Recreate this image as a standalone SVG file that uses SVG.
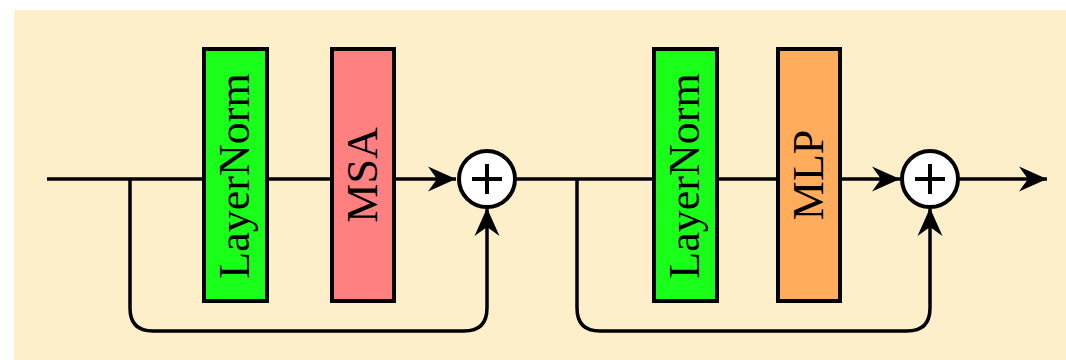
<svg xmlns="http://www.w3.org/2000/svg" width="1066" height="360" viewBox="0 0 1066 360">
<style>
.box{stroke:#000;stroke-width:4}
.lbl{font-family:"Liberation Serif","Times New Roman",serif;font-size:44px;fill:#000;text-anchor:middle}
.ln{fill:none;stroke:#000;stroke-width:3.5}
.sum{fill:#fff;stroke:#000;stroke-width:4}
.plus{stroke:#000;stroke-width:4}
</style>
<defs>
<marker id="arr" markerUnits="userSpaceOnUse" viewBox="-28 -13 29 26" refX="0" refY="0" markerWidth="29" markerHeight="26" orient="auto">
<path d="M0,0 L-28,-12.5 L-19,0 L-28,12.5 Z" fill="#000"/>
</marker>
</defs>
<rect x="0" y="0" width="1066" height="360" fill="#fff"/>
<rect x="14" y="10" width="1052" height="350" fill="#fdefc9"/>
<g id="connectors">
<path class="ln" d="M47,179 H456" marker-end="url(#arr)"/>
<path class="ln" d="M130,179 V308 Q130,331 153,331 H464 Q487,331 487,308 V208" marker-end="url(#arr)"/>
<path class="ln" d="M515,179 H900" marker-end="url(#arr)"/>
<path class="ln" d="M577,179 V308 Q577,331 600,331 H907 Q930,331 930,308 V208" marker-end="url(#arr)"/>
<path class="ln" d="M958,179 H1047" marker-end="url(#arr)"/>
</g>
<g id="layernorm1">
<rect class="box" x="204" y="49" width="63" height="252" fill="#1aff1a"/>
<text class="lbl" transform="translate(249,176) rotate(-90)">LayerNorm</text>
</g>
<g id="msa">
<rect class="box" x="332" y="49" width="62" height="252" fill="#ff8080"/>
<text class="lbl" transform="translate(377,175) rotate(-90)">MSA</text>
</g>
<g id="sum1">
<circle class="sum" cx="487" cy="179" r="28"/>
<path class="plus" d="M472,179 H502 M487,164 V194"/>
</g>
<g id="layernorm2">
<rect class="box" x="654" y="49" width="63" height="252" fill="#1aff1a"/>
<text class="lbl" transform="translate(699,176) rotate(-90)">LayerNorm</text>
</g>
<g id="mlp">
<rect class="box" x="778" y="49" width="62" height="252" fill="#ffad5c"/>
<text class="lbl" transform="translate(823,175) rotate(-90)">MLP</text>
</g>
<g id="sum2">
<circle class="sum" cx="930" cy="179" r="28"/>
<path class="plus" d="M915,179 H945 M930,164 V194"/>
</g>
</svg>
